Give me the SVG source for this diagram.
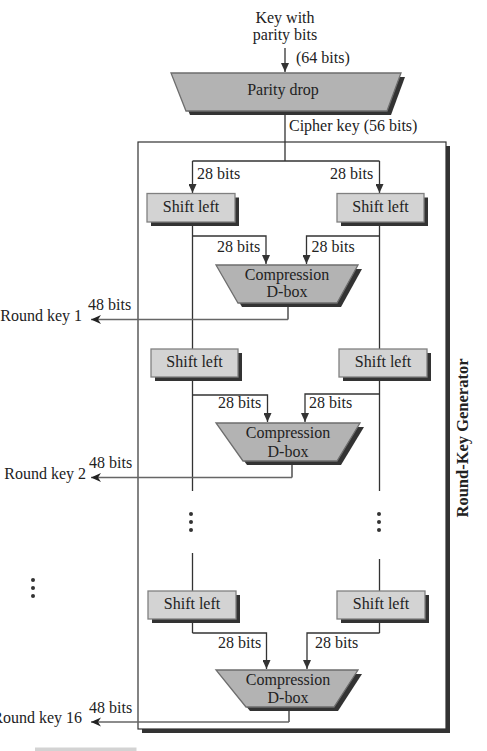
<svg xmlns="http://www.w3.org/2000/svg" width="487" height="751" viewBox="0 0 487 751">
<style>
text{font-family:"Liberation Serif","Times New Roman",serif;font-size:16px;fill:#222}
.m{text-anchor:middle}
.e{text-anchor:end}
.ln{fill:none;stroke:#333;stroke-width:1.3}
.ar{fill:none;stroke:#333;stroke-width:1.3;marker-end:url(#ah)}
.rk{fill:none;stroke:#666;stroke-width:1.5;marker-end:url(#ak)}
.sh{fill:#333}
.sl{fill:#d3d3d3;stroke:#808080;stroke-width:1.3}
.tz{fill:#b3b3b3;stroke:#6e6e6e;stroke-width:1.3}
.dot{fill:#333}
</style>
<defs>
<marker id="ah" markerUnits="userSpaceOnUse" markerWidth="9" markerHeight="8" refX="9" refY="4" orient="auto"><path d="M0,0 L9,4 L0,8 z" fill="#333"/></marker>
<marker id="ak" markerUnits="userSpaceOnUse" markerWidth="11" markerHeight="10" refX="10" refY="5" orient="auto"><path d="M0,0.5 L10,5 L0,9.5 L3,5 z" fill="#222"/></marker>
</defs>

<g id="generator-box">
<rect x="142" y="146" width="308" height="587" class="sh"/>
<rect x="138" y="142" width="308" height="587" fill="#fff" stroke="#333" stroke-width="1.2"/>
<text transform="translate(468,438) rotate(-90)" class="m" style="font-weight:bold;font-size:16.5px">Round-Key Generator</text>
</g>

<g id="connectors">
<path class="ar" d="M285,48 V72"/>
<path class="ln" d="M285,111 V161 M192.5,161 H379.5"/>
<path class="ar" d="M192.5,161 V193"/>
<path class="ar" d="M379.5,161 V193"/>
<path class="ln" d="M192.5,222 V349 M379.5,222 V349"/>
<path class="ar" d="M192.5,236 H266 V264"/>
<path class="ar" d="M379.5,236 H306.5 V264"/>
<path class="ln" d="M288,303 V319.5"/>
<path class="rk" d="M288,319.5 H91"/>
<path class="ln" d="M192.5,377 V491 M379.5,377 V491"/>
<path class="ar" d="M192.5,395 H267.5 V422"/>
<path class="ar" d="M379.5,394 H305 V422"/>
<path class="ln" d="M292,461 V477.5"/>
<path class="rk" d="M292,477.5 H91"/>
<path class="ln" d="M192.5,553 V591 M379.5,559 V591"/>
<path class="ln" d="M192.5,619 V633 M379.5,619 V633"/>
<path class="ar" d="M192.5,633 H266.5 V669"/>
<path class="ar" d="M379.5,633 H307 V669"/>
<path class="ln" d="M289,707 V722"/>
<path class="rk" d="M289,722 H91"/>
</g>

<g id="input-label">
<text x="285" y="23" class="m">Key with</text>
<text x="285" y="39.5" class="m">parity bits</text>
<text x="296" y="63">(64 bits)</text>
</g>

<g id="parity-drop">
<polygon points="175,77 405,77 391,115 190,115" class="sh"/>
<polygon points="171,73 401,73 387,111 186,111" class="tz"/>
<text x="283" y="94.5" class="m">Parity drop</text>
</g>
<text x="289" y="130.5">Cipher key (56 bits)</text>

<g id="labels-28">
<text x="197" y="179">28 bits</text>
<text x="330" y="179">28 bits</text>
<text x="217" y="252">28 bits</text>
<text x="311.5" y="252">28 bits</text>
<text x="218" y="408">28 bits</text>
<text x="309" y="408">28 bits</text>
<text x="218" y="648">28 bits</text>
<text x="315" y="648">28 bits</text>
</g>

<g id="shift-left-1a"><rect x="151" y="197.5" width="88" height="28.5" class="sh"/><rect x="147" y="193.5" width="88" height="28.5" class="sl"/><text x="191" y="211.5" class="m">Shift left</text></g>
<g id="shift-left-1b"><rect x="341" y="197.5" width="87" height="28.5" class="sh"/><rect x="337" y="193.5" width="87" height="28.5" class="sl"/><text x="380.5" y="211.5" class="m">Shift left</text></g>

<g id="compression-1">
<polygon points="220,269 362,269 341,307 242,307" class="sh"/>
<polygon points="216,265 358,265 337,303 238,303" class="tz"/>
<text x="287" y="280" class="m">Compression</text>
<text x="287" y="297" class="m">D-box</text>
</g>
<g id="round-key-1"><text x="88" y="310">48 bits</text><text x="82" y="321" class="e">Round key 1</text></g>

<g id="shift-left-2a"><rect x="155" y="353" width="87" height="28" class="sh"/><rect x="151" y="349" width="87" height="28" class="sl"/><text x="194.5" y="366.5" class="m">Shift left</text></g>
<g id="shift-left-2b"><rect x="343" y="353" width="88" height="28" class="sh"/><rect x="339" y="349" width="88" height="28" class="sl"/><text x="383" y="366.5" class="m">Shift left</text></g>

<g id="compression-2">
<polygon points="220,427 364,427 341,465 247,465" class="sh"/>
<polygon points="216,423 360,423 337,461 243,461" class="tz"/>
<text x="288" y="437.5" class="m">Compression</text>
<text x="288" y="456.5" class="m">D-box</text>
</g>
<g id="round-key-2"><text x="89" y="468">48 bits</text><text x="86" y="478.5" class="e">Round key 2</text></g>

<g id="ellipsis">
<circle cx="191" cy="514" r="2" class="dot"/><circle cx="191" cy="522" r="2" class="dot"/><circle cx="191" cy="530" r="2" class="dot"/>
<circle cx="379" cy="514" r="2" class="dot"/><circle cx="379" cy="522" r="2" class="dot"/><circle cx="379" cy="530" r="2" class="dot"/>
<circle cx="33" cy="580" r="2" class="dot"/><circle cx="33" cy="588" r="2" class="dot"/><circle cx="33" cy="596" r="2" class="dot"/>
</g>

<g id="shift-left-16a"><rect x="152" y="595" width="88" height="28" class="sh"/><rect x="148" y="591" width="88" height="28" class="sl"/><text x="192" y="608.5" class="m">Shift left</text></g>
<g id="shift-left-16b"><rect x="341" y="595" width="88" height="28" class="sh"/><rect x="337" y="591" width="88" height="28" class="sl"/><text x="381" y="608.5" class="m">Shift left</text></g>

<g id="compression-16">
<polygon points="220,674 362,674 338,711 250,711" class="sh"/>
<polygon points="216,670 358,670 334,707 246,707" class="tz"/>
<text x="288" y="685" class="m">Compression</text>
<text x="288" y="703" class="m">D-box</text>
</g>
<g id="round-key-16"><text x="89" y="712.5">48 bits</text><text x="82" y="722.5" class="e">Round key 16</text></g>

<rect x="35" y="747.5" width="101.5" height="4" fill="#d3d3d3"/>
</svg>
